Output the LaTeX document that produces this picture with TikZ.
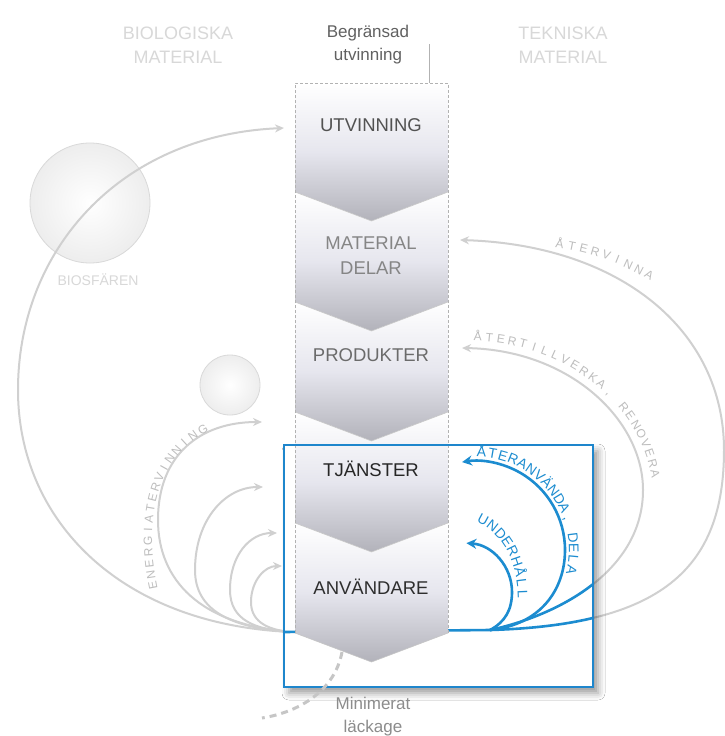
\documentclass[tikz,border=0pt]{standalone}
\usepackage{fontspec}
\setmainfont{Liberation Sans}
\usetikzlibrary{arrows.meta,shadows.blur,calc}
\definecolor{arcgray}{HTML}{D0D0D0}
\definecolor{faint}{HTML}{D8D8D8}
\definecolor{boxblue}{HTML}{1E86CC}
\definecolor{arcblue}{HTML}{1C8CD0}
\definecolor{blockmid}{HTML}{E6E6EE}
\definecolor{blockdark}{HTML}{B2B2BA}
\definecolor{curvtext}{HTML}{BDBDBD}
\newcommand\lettersalong[7]{%
  \foreach \ch [count=\i] in {#6} {%
    \pgfmathsetmacro\pp{(\i-0.5)/#7}%
    \path (#1) .. controls (#2) and (#3) .. (#4) node[#5, pos=\pp] {\ch};%
  }}
\begin{document}
\begin{tikzpicture}[x=1pt,y=-1pt,
  garc/.style={draw=arcgray, line width=2pt},
  barc/.style={draw=arcblue, line width=2.6pt},
  garrow/.style={-{Stealth[length=9pt,width=8pt]}},
  barrow/.style={-{Stealth[length=10pt,width=10pt]}},
  blockshade/.style={top color=white, bottom color=blockdark, middle color=blockmid},
  vedge/.style={draw=gray!45, line width=0.6pt},
  lbl/.style={font=\fontsize{18.5}{25}\selectfont, align=center, inner sep=0pt},
  head/.style={font=\fontsize{18}{24}\selectfont, align=center, text=faint, inner sep=0pt},
  small/.style={font=\fontsize{17}{23}\selectfont, align=center, inner sep=0pt},
  letter/.style={sloped, allow upside down, anchor=base, inner sep=0pt},
  bluelet/.style={letter, font=\fontsize{14}{14}\selectfont, text=arcblue},
  graylet/.style={letter, font=\fontsize{12}{12}\selectfont, text=curvtext}]
\useasboundingbox (0,0) rectangle (725,736);
\fill[white] (0,0) rectangle (725,736);

% named points
\coordinate (lbase) at (292,632);
\coordinate (rbase) at (490,630);
\coordinate (tipU) at (284,128);
\coordinate (tipE1) at (262,422);
\coordinate (tipE2) at (263,487);
\coordinate (tipE3) at (277,533);
\coordinate (tipE4) at (282,566);
\coordinate (tipR1) at (460,240);
\coordinate (tipR2) at (462,348);
\coordinate (leakA) at (342,652);
\coordinate (leakB) at (262,718);

% headings
\node[head] (bio) at (178,45) {BIOLOGISKA\\MATERIAL};
\node[head] (tek) at (563,45) {TEKNISKA\\MATERIAL};
\node[small, text=black!62] (beg) at (368,45) {Begränsad\\utvinning};
\draw[gray!60, line width=0.6pt, -{Stealth[length=4pt,width=3pt]}] (429,44) -- (429,92);

% circles
\shade[inner color=white, outer color=gray!14] (90,203) circle (60);
\draw[gray!30, line width=0.8pt] (90,203) circle (60);
\node[font=\fontsize{14}{14}\selectfont, text=faint] (bios) at (98,280) {BIOSFÄREN};
\shade[inner color=white, outer color=gray!14] (230,385) circle (30);
\draw[gray!30, line width=0.8pt] (230,385) circle (30);

% gray arcs, left
\draw[garc,garrow] (lbase) .. controls (120,625) and (18,520) .. (18,390) .. controls (18,250) and (120,135) .. (tipU);
\draw[garc,garrow] (lbase) .. controls (200,625) and (158,580) .. (158,520) .. controls (158,455) and (200,422) .. (tipE1);
\draw[garc,garrow] (lbase) .. controls (230,628) and (195,610) .. (195,570) .. controls (195,520) and (225,487) .. (tipE2);
\draw[garc,garrow] (lbase) .. controls (255,630) and (230,620) .. (230,590) .. controls (230,555) and (250,533) .. (tipE3);
\draw[garc,garrow] (lbase) .. controls (265,630) and (250,620) .. (251,600) .. controls (252,580) and (265,566) .. (tipE4);

% gray arcs, right
\draw[garc,garrow] (rbase) .. controls (660,625) and (724,570) .. (724,450) .. controls (724,330) and (620,245) .. (tipR1);
\draw[garc,garrow] (rbase) .. controls (560,615) and (643,570) .. (643,490) .. controls (643,420) and (570,350) .. (tipR2);

% blue box background with shadow
\path[blur shadow={shadow xshift=5pt, shadow yshift=-6pt, shadow blur radius=7pt, shadow opacity=40}, fill=white] (284,445) rectangle (593,687);

% blue parts inside the box
\begin{scope}
\clip (284,445) rectangle (593,687);
\draw[barc] (rbase) .. controls (660,625) and (724,570) .. (724,450);
\draw[barc] (rbase) .. controls (560,615) and (643,570) .. (643,490);
\draw[barc] (284,632) -- (rbase);
\end{scope}
\draw[barc,barrow] (rbase) .. controls (540,625) and (565,590) .. (565,550) arc[start angle=0, end angle=-99, radius=89];
\draw[barc,barrow] (rbase) .. controls (505,622) and (512,610) .. (512,592) arc[start angle=0, end angle=-86, radius=49];

% column blocks
\shade[blockshade] (295,83) -- (448,83) -- (448,192) -- (371.5,221) -- (295,192) -- cycle;
\shade[blockshade] (295,192) -- (371.5,221) -- (448,192) -- (448,302) -- (371.5,331) -- (295,302) -- cycle;
\shade[blockshade] (295,302) -- (371.5,331) -- (448,302) -- (448,412) -- (371.5,441) -- (295,412) -- cycle;
\shade[blockshade] (295,412) -- (371.5,441) -- (448,412) -- (448,523) -- (371.5,552) -- (295,523) -- cycle;
\shade[blockshade] (295,523) -- (371.5,552) -- (448,523) -- (448,633) -- (371.5,662) -- (295,633) -- cycle;
\draw[vedge] (295,192) -- (371.5,221) -- (448,192);
\draw[vedge] (295,302) -- (371.5,331) -- (448,302);
\draw[vedge] (295,412) -- (371.5,441) -- (448,412);
\draw[vedge] (295,523) -- (371.5,552) -- (448,523);
\draw[vedge] (295,633) -- (371.5,662) -- (448,633);
\draw[gray!60, densely dashed, line width=0.5pt] (295,633) -- (295,83) -- (448,83) -- (448,633);

\node[lbl, text=black!68] (utv) at (371,125) {UTVINNING};
\node[lbl, text=black!48] (mat) at (371,256) {MATERIAL\\DELAR};
\node[lbl, text=black!58] (prod) at (371,355) {PRODUKTER};
\node[lbl, text=black!85] (tja) at (371,469) {TJÄNSTER};
\node[lbl, text=black!82] (anv) at (371,587) {ANVÄNDARE};

% blue box border
\draw[boxblue, line width=1.8pt] (284,445) rectangle (593,687);

% leakage
\draw[gray!45, line width=3pt, dash pattern=on 7pt off 5pt] (leakA) .. controls (335,690) and (300,712) .. (leakB);
\node[small, text=black!45] (leak) at (373,717) {Minimerat\\läckage};

% curved labels, letter by letter
\lettersalong{476,457}{537,457}{581.6,515.1}{565.8,574.1}{bluelet}{Å,T,E,R,A,N,V,Ä,N,D,A,{,},{},D,E,L,A}{17}
\lettersalong{476,522}{506,535}{518,567}{518,600}{bluelet}{U,N,D,E,R,H,Å,L,L}{9}
\lettersalong{472,341}{560,342}{640,400}{652,480}{graylet}{Å,T,E,R,T,I,L,L,V,E,R,K,A,{,},{},R,E,N,O,V,E,R,A}{23}
\lettersalong{553,247}{590,252}{622,263}{652,282}{graylet}{Å,T,E,R,V,I,N,N,A}{9}
\lettersalong{158,590}{145,530}{150,460}{210,430}{graylet}{E,N,E,R,G,I,A,T,E,R,V,I,N,N,I,N,G}{17}
\end{tikzpicture}
\end{document}
